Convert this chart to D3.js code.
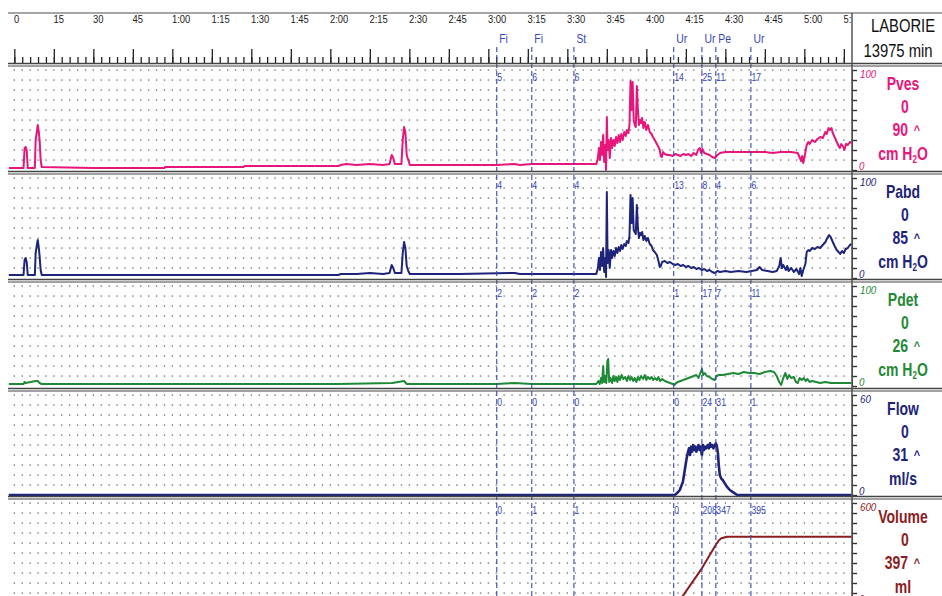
<!DOCTYPE html>
<html><head><meta charset="utf-8">
<script src="https://cdn.jsdelivr.net/npm/d3@7"></script>
<style>
body{margin:0;background:#fff}
svg{display:block;font-family:"Liberation Sans",Arial,sans-serif}
</style></head><body><svg id="chart" width="942" height="596"></svg>
<script>
// time in seconds
var majorTicks = [0,15,30,45,60,75,90,105,120,135,150,165,180,195,210,225,240,255,270,285,300,315];
var tickLabels = ["0","15","30","45","1:00","1:15","1:30","1:45","2:00","2:15","2:30","2:45","3:00","3:15","3:30","3:45","4:00","4:15","4:30","4:45","5:00","5:15"];

var eventNames = ["Fi","Fi","St","Ur","Ur","Pe","Ur"];
var eventTimes = [183.2,196.5,212.5,250.4,261.1,266.4,279.7];

var channels = ["Pves","Pabd","Pdet","Flow","Volume"];
var units = ["cm H2O","cm H2O","cm H2O","ml/s","ml"];
var scaleMax = [100,100,100,60,600];
var peakValues = [90,85,26,31,397];
var colors = ["#e8157b","#1e2479","#1f8a36","#1e2479","#8c1c1c"];

var pvesMarks = [5,6,6,14,25,11,17];
var pabdMarks = [4,4,4,13,8,4,6];
var pdetMarks = [2,2,2,1,17,7,11];
var flowMarks = [0,0,0,0,24,31,1];
var volMarks = [0,1,1,0,208,347,395];

var pves = [[-2.1,2],[3.5,2],[3.9,22],[4.3,23],[4.7,20],[5.1,2],[7.8,2],[8.1,30],[8.5,37],[8.9,45],[9.3,38],[9.6,30],[10,10],[10.4,3],[30,2],[57,2],[57.2,3],[87,3],[87.5,4],[123,4],[124,5],[126,6],[130,5],[135,6],[140,5],[142.5,6],[143.3,15],[143.9,12],[144.5,6],[147,6],[147.5,30],[148,43],[148.5,38],[149,15],[149.6,10],[150.2,5],[169,5],[183,5],[190,6],[192,5],[196.5,6],[205,6],[212.5,6],[221,6],
[221.6,12],[222,22],[222.4,10],[222.8,28],[223.2,15],[223.6,35],[224,8],[224.4,25],[224.7,0],[225,53],[225.3,20],[225.7,30],[226.1,12],[226.6,32],[227,22],[227.5,30],[228,24],[228.5,33],[229,27],[229.5,35],[230,28],[230.5,36],[231,30],[231.6,38],[232.2,34],[232.6,40],[233.2,37],[233.6,45],[234,89],[234.4,60],[234.8,88],[235.2,50],[235.6,45],[236,43],[236.4,84],[236.8,60],[237.2,45],[237.6,50],[238,47],[238.4,52],[238.9,42],[239.4,48],[240,40],[240.6,45],[241.3,38],[242,36],[242.5,33],[243.2,30],[244,26],[244.6,23],[245.1,20],[245.5,14],[245.9,13],[246.4,18],[247,16],[248,15],[249,15],[250,14],[251,16],[252,15],[253,14],[254,16],[255,15],[256,16],[257,14],[258,17],[259,15],[259.6,20],[260.3,22],[260.8,17],[261.3,21],[262,17],[263,16],[264,15],[265,13],[266,12],[267,15],[268,17],[270,18],[275,18],[280,18],[285,18],[288,17],[291,18],[295,18],[297.5,17],[298.3,12],[298.8,9],[299.2,14],[299.6,7],[300,12],[300.9,25],[301.5,28],[302,26],[303,30],[304,28],[305,31],[306,33],[307,32],[308,38],[308.5,36],[309.2,42],[309.7,40],[310.3,42],[310.8,37],[311.5,33],[312.3,28],[313,24],[313.5,22],[314,26],[314.6,24],[315.2,20],[315.8,26],[316.5,25],[317.3,28],[318,27]];

var pabd = [[-2.1,3],[3.5,3],[3.9,18],[4.3,20],[4.7,16],[5.1,3],[7.8,3],[8.1,25],[8.5,32],[8.9,38],[9.3,30],[9.6,22],[10,8],[10.4,3],[57,3],[87,3],[123,3],[124,4],[130,4],[135,5],[140,4],[142.5,5],[143.3,13],[143.9,10],[144.5,5],[147,5],[147.5,25],[148,36],[148.5,30],[149,12],[149.6,7],[150.2,4],[169,4],[190,5],[192,4],[205,4],[221,4],
[221.6,10],[222,20],[222.4,8],[222.8,26],[223.2,12],[223.6,30],[224,6],[224.4,20],[224.7,1],[225,86],[225.3,15],[225.7,28],[226.1,10],[226.6,28],[227,20],[227.5,27],[228,22],[228.5,30],[229,25],[229.5,31],[230,27],[230.5,33],[231,29],[231.6,34],[232.2,32],[232.6,37],[233.2,35],[233.6,42],[234,83],[234.4,55],[234.8,80],[235.2,48],[235.6,46],[236,44],[236.4,73],[236.8,50],[237.2,40],[237.6,45],[238,43],[238.4,46],[238.9,38],[239.4,42],[240,37],[240.6,40],[241.3,34],[242,32],[242.5,28],[243.2,26],[244,23],[244.6,17],[245.1,11],[245.5,12],[246,16],[247,17],[248,15],[249,16],[250,14],[251,13],[252,14],[253,12],[254,13],[255,11],[256,12],[257,10],[258,11],[259,9],[260,10],[261,8],[262,9],[263,7],[264,8],[265,6],[266,5],[267,7],[268,6],[270,7],[272,6],[275,7],[278,6],[280,7],[282,8],[283,11],[284,8],[286,7],[288,6],[289.5,7],[290.5,12],[291,20],[291.5,10],[292,13],[293,8],[293.5,12],[294,7],[295,10],[296,6],[297,9],[298,4],[298.5,10],[299,2],[299.6,8],[300.4,14],[300.9,26],[301.5,28],[302,27],[303,30],[304,29],[305,31],[306,30],[307,33],[308,36],[308.7,40],[309.4,43],[310,41],[310.8,36],[311.5,32],[312.3,28],[313,26],[313.6,24],[314.3,27],[315,25],[315.7,29],[316.5,30],[317.3,33],[318,34]];

var pdet = [[-2.1,2],[3.5,2],[3.9,4],[4.3,3],[8.1,5],[8.9,5],[9.6,3],[10.4,2],[57,2],[87,2],[123,2],[143.5,3],[148,5],[149,2],[169,2],[183,2],[190,3],[196.5,2],[212.5,2],[221,2],
[221.8,5],[222.3,2],[222.8,8],[223.2,3],[223.6,20],[224,4],[224.4,10],[224.8,3],[225.2,25],[225.5,27],[225.9,4],[226.4,8],[227,3],[227.5,10],[228,5],[228.5,9],[229,4],[229.5,10],[230,6],[230.6,11],[231.2,7],[232,9],[232.6,5],[233.2,10],[233.8,6],[234.4,9],[235,5],[235.6,8],[236.2,4],[236.8,9],[237.4,6],[238,10],[238.8,7],[239.4,11],[240,6],[240.6,9],[241.3,7],[242,9],[242.6,6],[243.2,8],[244,6],[244.6,9],[245.2,5],[246,7],[247,5],[248,4],[249,3],[250,2],[250.6,1],[251.3,3],[252,4],[253,5],[254,6],[255,7],[256,8],[257,9],[258,10],[259,11],[259.8,8],[260.5,13],[261.1,17],[261.6,11],[262.2,13],[263,10],[264,9],[265,7],[266,6],[266.6,10],[267.5,11],[269,11],[271,12],[273,13],[275,12],[277,14],[279,13],[281,13],[283,12],[285,14],[287,15],[288.5,14],[289.5,10],[290.5,4],[291.2,1],[292,8],[292.8,13],[293.5,7],[294.2,11],[295,8],[296,9],[296.8,4],[297.5,3],[298.2,8],[299,6],[299.8,8],[300.5,5],[301.2,7],[302,4],[303,5],[304.5,4],[306,3],[308,4],[310,3],[313,3],[316,3],[318,3]];

var flow = [[-2.1,0],[250.8,0],[251.6,1],[252.7,3],[253.9,8],[254.6,15],[255.2,21],[255.7,25],[256.2,28],[256.6,24],[257,29],[257.4,26],[257.8,30],[258.2,27],[258.6,29],[259,26],[259.4,28],[259.8,30],[260.2,27],[260.6,29],[261.1,24],[261.5,30],[261.9,27],[262.3,29],[262.8,28],[263.3,30],[263.8,28],[264.2,31],[264.6,29],[265,30],[265.5,28],[266,30],[266.4,31],[266.8,29],[267.2,25],[267.5,18],[267.9,12],[268.4,10],[269,9],[269.8,7],[270.6,5],[271.7,3],[272.6,2],[273.6,1],[274.5,0],[318,0]];

var volume = [[-2.1,0],[252,0],[261.1,208],[266.4,350],[267.5,375],[268.5,388],[270.6,397],[318,397]];

var series = [pves,pabd,pdet,flow,volume];
var marks = [pvesMarks,pabdMarks,pdetMarks,flowMarks,volMarks];
var panelTop = [65,173,281,390,498];
var panelH = 107;

var svg = d3.select("#chart");
var x = d3.scaleLinear().domain([-2.4, 318.1]).range([8, 852]);
var blue = "#3447b8";

// narrow text: Liberation Sans squeezed horizontally
function ntext(parent, px, py, str, sx) {
  return parent.append("text")
    .attr("transform","translate("+px+","+py+") scale("+sx+",1)").text(str);
}

svg.append("defs").append("clipPath").attr("id","hclip")
  .append("rect").attr("x",0).attr("y",0).attr("width",851).attr("height",64);

// header axis
var head = svg.append("g").attr("clip-path","url(#hclip)");
head.append("g").attr("transform","translate(0,64)")
  .call(d3.axisTop(x).tickValues(d3.range(0,319,3)).tickSize(7).tickFormat(""))
  .call(function(g){ g.select(".domain").remove(); });
head.append("g").attr("transform","translate(0,64)")
  .call(d3.axisTop(x).tickValues(majorTicks).tickSize(15).tickPadding(26)
    .tickFormat(function(d,i){ return tickLabels[i]; }))
  .call(function(g){
    g.select(".domain").remove();
    g.selectAll("text").attr("text-anchor","start").attr("dx",-1)
      .attr("font-size",11.5).attr("fill","#222")
      .attr("font-family","'Liberation Sans',Arial,sans-serif")
      .attr("transform","scale(0.82,1)");
  });
svg.selectAll(".tick line").attr("stroke","#222").attr("stroke-width",1.3);

// event labels in header
var evg = svg.append("g").attr("font-size",13).attr("fill",blue);
eventTimes.forEach(function(t,i){ ntext(evg, x(t)+2.5, 43, eventNames[i], 0.8); });

channels.forEach(function(name,ci){
  var top = panelTop[ci];
  var y = d3.scaleLinear().domain([0, scaleMax[ci]]).range([top+105, top+5]);
  var g = svg.append("g");
  var cid = "pc"+ci;
  svg.select("defs").append("clipPath").attr("id",cid)
    .append("rect").attr("x",8).attr("y",top).attr("width",844).attr("height",panelH);

  // dot grid
  var rows = d3.range(1,11).map(function(k){ return scaleMax[ci]*k/10; });
  var cols = d3.range(0,319,3);
  var dots = [];
  rows.forEach(function(r){ cols.forEach(function(c){ dots.push([c,r]); }); });
  g.append("g").selectAll("rect").data(dots).enter().append("rect")
    .attr("x",function(d){ return x(d[0])-0.6; })
    .attr("y",function(d){ return y(d[1])-0.6; })
    .attr("width",1.3).attr("height",1.3).attr("fill","#666");

  // event value labels
  var vg = g.append("g").attr("font-size",10.5).attr("fill",blue);
  eventTimes.forEach(function(t,i){ ntext(vg, x(t)+0.5, top+16, marks[ci][i], 0.82); });

  // trace
  var line = d3.line().x(function(d){ return x(d[0]); }).y(function(d){ return y(d[1]); });
  g.append("path").datum(series[ci]).attr("clip-path","url(#"+cid+")")
    .attr("d",line).attr("fill","none").attr("stroke",colors[ci])
    .attr("stroke-width", ci==3 ? 2.6 : 2).attr("stroke-linejoin","round");

  // right scale
  g.append("g").attr("transform","translate(852,0)")
    .call(d3.axisRight(y).tickValues(rows.concat([0])).tickSize(5).tickFormat(""))
    .call(function(a){
      a.select(".domain").attr("stroke","#333");
      a.selectAll(".tick line").attr("stroke","#333").attr("stroke-width",1.4);
    });
  var sc = g.append("g").attr("font-size",11.5).attr("font-style","italic").attr("fill",colors[ci]);
  ntext(sc, 860, top+13, scaleMax[ci], 0.85);
  ntext(sc, 859, top+105, "0", 0.85);

  var lab = g.append("g").attr("fill",colors[ci]).attr("font-size",17.5)
    .attr("font-weight","bold").attr("text-anchor","middle");
  ntext(lab, 903, top+25, name, 0.8);
  ntext(lab, 905, top+48, "0", 0.8);
  ntext(lab, 908, top+71, peakValues[ci], 0.8).attr("text-anchor","end");
  ntext(lab, 917, top+69, "^", 0.9).attr("font-size",12);
  var u = ntext(lab, 903, top+95, "", 0.8);
  if (units[ci]=="cm H2O") {
    u.append("tspan").text("cm H");
    u.append("tspan").attr("font-size",10).attr("dy",3).text("2");
    u.append("tspan").attr("dy",-3).text("O");
  } else u.text(units[ci]);
});

// event dashed lines
svg.append("g").selectAll("line").data(eventTimes).enter().append("line")
  .attr("x1",function(d){ return x(d); }).attr("x2",function(d){ return x(d); })
  .attr("y1",47).attr("y2",596).attr("stroke",blue).attr("stroke-width",1.1)
  .attr("stroke-dasharray","5,3");

// frame lines
var frame = svg.append("g").attr("stroke","#444");
frame.append("line").attr("x1",8).attr("x2",942).attr("y1",13).attr("y2",13).attr("stroke","#888").attr("stroke-width",1.5);
frame.append("line").attr("x1",852).attr("x2",852).attr("y1",13).attr("y2",596).attr("stroke","#555").attr("stroke-width",1.5);
[64.5,172.5,280.5,389.5,497.5].forEach(function(b){
  frame.append("line").attr("x1",8).attr("x2",942).attr("y1",b-1).attr("y2",b-1).attr("stroke-width",1.3);
  frame.append("line").attr("x1",8).attr("x2",942).attr("y1",b+1.5).attr("y2",b+1.5).attr("stroke-width",1);
});

var hd = svg.append("g").attr("text-anchor","middle").attr("fill","#111").attr("font-size",18.5);
ntext(hd, 903, 32, "LABORIE", 0.8);
ntext(hd, 898, 57, "13975 min", 0.8);
</script></body></html>
